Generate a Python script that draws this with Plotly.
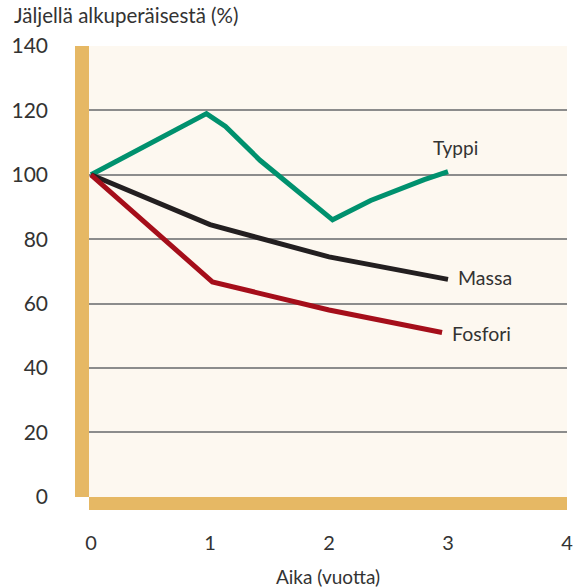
import plotly.graph_objects as go

# Data
typpi_x = [0, 0.97, 1.13, 1.42, 2.03, 2.35, 2.8, 3.0]
typpi_y = [100, 119, 115, 104.5, 86, 92, 98.5, 101]
massa_x = [0, 1, 2, 3]
massa_y = [100, 84.5, 74.5, 67.5]
fosfori_x = [0, 1.02, 2, 2.95]
fosfori_y = [100, 66.7, 58, 51]

x_ticks = [0, 1, 2, 3, 4]
y_ticks = [0, 20, 40, 60, 80, 100, 120, 140]
grid_ticks = [20, 40, 60, 80, 100, 120]

GREEN = "#00916E"
BLACK = "#231F20"
RED = "#A50E1A"
TAN = "#E6B864"
BG = "#FDF8F0"
TXT = "#333333"
FONT = "Lato"

fig = go.Figure()
for xs, ys, c in [(typpi_x, typpi_y, GREEN), (massa_x, massa_y, BLACK), (fosfori_x, fosfori_y, RED)]:
    fig.add_trace(go.Scatter(x=xs, y=ys, mode="lines", line=dict(color=c, width=5),
                             showlegend=False, hoverinfo="skip"))

# invisible trace on yaxis2 for white ticks
fig.add_trace(go.Scatter(x=[0], y=[0], yaxis="y2", mode="markers", marker=dict(opacity=0),
                         showlegend=False, hoverinfo="skip"))

fig.update_layout(
    width=580, height=588,
    margin=dict(l=89, r=13, t=46, b=91),
    paper_bgcolor="white",
    plot_bgcolor=BG,
    font=dict(family=FONT, color=TXT, size=20),
    xaxis=dict(range=[-0.017, 4.0], tickvals=x_ticks, showgrid=False, zeroline=False,
               showline=False, ticks="", ticklabelstandoff=32, automargin=False,
               tickfont=dict(size=20, color=TXT),
               title=dict(text="Aika (vuotta)", font=dict(size=19, color=TXT), standoff=18)),
    yaxis=dict(range=[-0.1, 140], tickvals=y_ticks, showgrid=False, zeroline=False,
               showline=False, ticks="", ticklabelstandoff=40, automargin=False,
               tickfont=dict(size=21, color=TXT)),
    yaxis2=dict(range=[-0.1, 140], overlaying="y", side="left", tickvals=grid_ticks,
                showticklabels=False, ticks="outside", ticklen=6, tickwidth=2,
                tickcolor="white", showgrid=True, gridcolor="#8c8c8c", gridwidth=2,
                zeroline=False, showline=False, automargin=False, layer="below traces"),
    shapes=[
        dict(type="rect", xref="paper", yref="paper", x0=-14/478, x1=0, y0=0, y1=1,
             fillcolor=TAN, line=dict(width=0), layer="above"),
        dict(type="rect", xref="paper", yref="paper", x0=0, x1=1, y0=-13/451, y1=0,
             fillcolor=TAN, line=dict(width=0), layer="above"),
    ],
    annotations=[
        dict(text="Jäljellä alkuperäisestä (%)", xref="paper", yref="paper",
             x=-77/478, y=1 + 31/451, xanchor="left", yanchor="middle",
             showarrow=False, font=dict(size=20.5, color=TXT)),
        dict(text="Typpi", x=3.06, y=108.5, xanchor="center", yanchor="middle",
             showarrow=False, font=dict(size=19, color=TXT)),
        dict(text="Massa", x=3.07, y=68, xanchor="left", yanchor="middle",
             showarrow=False, font=dict(size=19.5, color=TXT)),
        dict(text="Fosfori", x=3.02, y=50.8, xanchor="left", yanchor="middle",
             showarrow=False, font=dict(size=19.5, color=TXT)),
    ],
)

fig.write_html("out.html", config={"displayModeBar": False},
               post_script="document.body.style.margin='0';")
